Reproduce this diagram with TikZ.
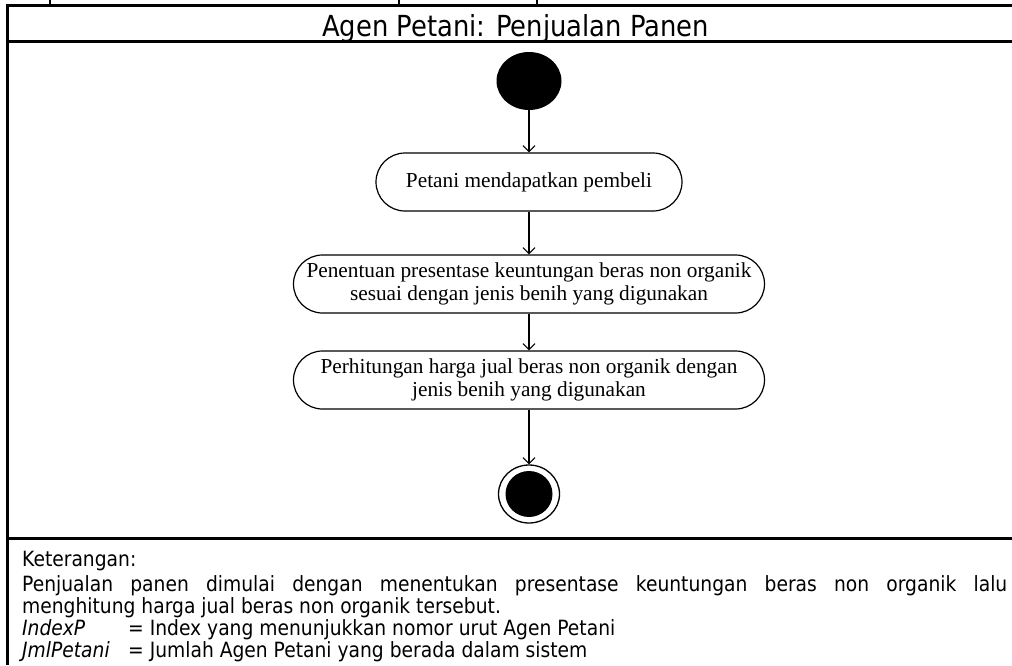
\documentclass[tikz,border=0pt]{standalone}
\usepackage{fontspec}
\setmainfont{Liberation Serif}
\newfontfamily\tahoma{DejaVu Sans}[FakeStretch=0.89,ItalicFont={DejaVu Sans Oblique}]
\usetikzlibrary{arrows.meta,shapes.geometric}
\begin{document}
\begin{tikzpicture}[x=1pt,y=-1pt,
    frame/.style={line width=3pt},
    activity/.style={draw,line width=1.2pt,rounded corners=29pt,minimum height=58pt,align=center,
        font=\fontsize{21.3}{23}\selectfont},
    flow/.style={line width=1.1pt,-{Straight Barb[length=6pt,width=12pt]}}]
    \useasboundingbox (0,0) rectangle (1012,665);
    \foreach \xx in {50,399,537}
        \draw [line width=2pt] (\xx,0) -- (\xx,5.7);
    \draw [frame] (1012,5.7) -- (7.5,5.7) -- (7.5,665);
    \draw [frame] (7.5,41.7) -- (1012,41.7);
    \draw [frame] (7.5,538) -- (1012,538);

    \node [anchor=base,font=\tahoma\fontsize{29}{30}\selectfont] (title) at (515.5,36) {Agen Petani: Penjualan Panen};

    \node [ellipse,fill,minimum width=65pt,minimum height=58pt,inner sep=0pt] (start) at (529,81) {};
    \node [activity,minimum width=306pt] (a1) at (529,182) {Petani mendapatkan pembeli};
    \node [activity,minimum width=471pt] (a2) at (529,284) {Penentuan presentase keuntungan beras non organik\\sesuai dengan jenis benih yang digunakan};
    \node [activity,minimum width=471pt] (a3) at (529,380) {Perhitungan harga jual beras non organik dengan\\jenis benih yang digunakan};
    \node [ellipse,draw,line width=1.3pt,minimum width=61pt,minimum height=58pt,inner sep=0pt] (stop) at (529,494) {};
    \node [ellipse,fill,minimum width=47pt,minimum height=46pt,inner sep=0pt] (stopdot) at (stop) {};

    \draw [flow] (start) -- (a1);
    \draw [flow] (a1) -- (a2);
    \draw [flow] (a2) -- (a3);
    \draw [flow] (a3) -- (stop);

    \node [anchor=base west,inner sep=0pt,text width=985pt,align=justify,
        font=\tahoma\fontsize{21}{22}\selectfont] (note) at (22,566) {Keterangan:\\[3pt]
        Penjualan panen dimulai dengan menentukan presentase keuntungan beras non organik lalu\linebreak
        menghitung harga jual beras non organik tersebut.\\
        \makebox[106pt][l]{\textit{IndexP}}= Index yang menunjukkan nomor urut Agen Petani\\
        \makebox[106pt][l]{\textit{JmlPetani}}= Jumlah Agen Petani yang berada dalam sistem};
\end{tikzpicture}
\end{document}
